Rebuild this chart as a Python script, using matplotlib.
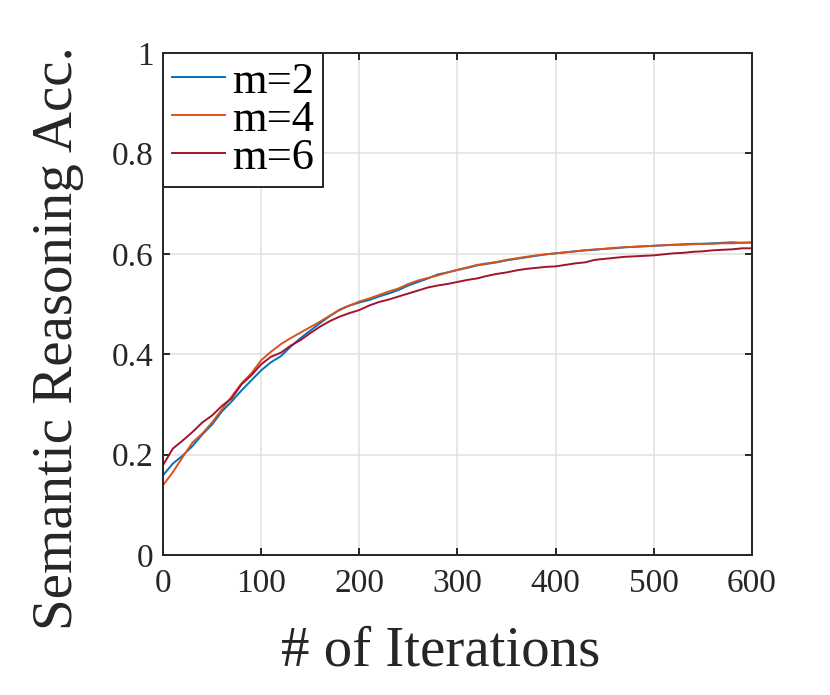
import numpy as np
import matplotlib.pyplot as plt

# 読み取った値（10イテレーション刻み）
iters = list(range(0, 601, 10))

acc_m2 = [0.159, 0.182, 0.198, 0.217, 0.240, 0.260, 0.286, 0.306, 0.328, 0.348,
          0.368, 0.384, 0.396, 0.415, 0.432, 0.447, 0.462, 0.476, 0.489, 0.497,
          0.503, 0.508, 0.515, 0.521, 0.528, 0.537, 0.544, 0.551, 0.559, 0.563,
          0.568, 0.572, 0.577, 0.580, 0.583, 0.587, 0.590, 0.593, 0.596, 0.599,
          0.601, 0.603, 0.605, 0.607, 0.608, 0.610, 0.611, 0.613, 0.614, 0.615,
          0.616, 0.617, 0.618, 0.619, 0.620, 0.620, 0.621, 0.622, 0.623, 0.622,
          0.623]
acc_m4 = [0.139, 0.165, 0.195, 0.224, 0.242, 0.264, 0.290, 0.316, 0.342, 0.362,
          0.388, 0.405, 0.420, 0.432, 0.443, 0.454, 0.465, 0.477, 0.488, 0.497,
          0.505, 0.511, 0.518, 0.525, 0.531, 0.540, 0.547, 0.552, 0.557, 0.563,
          0.568, 0.573, 0.578, 0.581, 0.584, 0.588, 0.591, 0.594, 0.597, 0.599,
          0.601, 0.603, 0.605, 0.607, 0.609, 0.610, 0.612, 0.613, 0.614, 0.615,
          0.616, 0.617, 0.618, 0.618, 0.619, 0.620, 0.620, 0.621, 0.621, 0.622,
          0.622]
acc_m6 = [0.179, 0.212, 0.228, 0.245, 0.264, 0.278, 0.297, 0.312, 0.340, 0.358,
          0.380, 0.395, 0.403, 0.417, 0.428, 0.442, 0.455, 0.466, 0.475, 0.482,
          0.488, 0.497, 0.504, 0.509, 0.515, 0.521, 0.527, 0.533, 0.537, 0.540,
          0.544, 0.548, 0.551, 0.556, 0.560, 0.563, 0.567, 0.570, 0.572, 0.574,
          0.575, 0.578, 0.581, 0.583, 0.588, 0.590, 0.592, 0.594, 0.595, 0.596,
          0.597, 0.599, 0.601, 0.602, 0.604, 0.605, 0.607, 0.608, 0.609, 0.611,
          0.611]

labels = ["m=2", "m=4", "m=6"]
colors = ["#0072BD", "#D95319", "#A2142F"]

x_ticks = [0, 100, 200, 300, 400, 500, 600]
y_ticks = [0, 0.2, 0.4, 0.6, 0.8, 1]
y_ticklabels = ["0", "0.2", "0.4", "0.6", "0.8", "1"]

plt.rcParams["font.family"] = ["Liberation Serif", "DejaVu Serif"]

fig = plt.figure(figsize=(8.3, 6.95), dpi=100)
ax = fig.add_axes([0.1964, 0.2014, 0.7096, 0.7223])

for ys, lab, c in zip([acc_m2, acc_m4, acc_m6], labels, colors):
    ax.plot(iters, ys, color=c, linewidth=1.4, label=lab)

ax.set_xlim(0, 600)
ax.set_ylim(0, 1)
ax.set_xticks(x_ticks)
ax.set_yticks(y_ticks)
ax.set_yticklabels(y_ticklabels)

ax.grid(True, color="#e0e0e0", linewidth=1.1)
ax.set_axisbelow(True)
for sp in ax.spines.values():
    sp.set_color("#262626")
    sp.set_linewidth(1.4)
ax.tick_params(direction="in", length=5, width=1.4, colors="#262626",
               labelsize=24, top=True, right=True)
ax.tick_params(axis="x", pad=10)
ax.tick_params(axis="y", pad=7)

ax.set_xlabel("# of Iterations", fontsize=41, color="#262626")
ax.set_ylabel("Semantic Reasoning Acc.", fontsize=41, color="#262626")
ax.xaxis.set_label_coords(0.472, -0.14)
ax.yaxis.set_label_coords(-0.135, 0.432)

leg = ax.legend(loc="upper left", fontsize=32, frameon=True, fancybox=False,
                borderaxespad=0, borderpad=0.2, labelspacing=-0.05,
                handlelength=1.2, handletextpad=0.15)
leg.get_frame().set_edgecolor("#262626")
leg.get_frame().set_linewidth(1.4)
leg.get_frame().set_alpha(1)

fig.savefig("out.png", dpi=100)
